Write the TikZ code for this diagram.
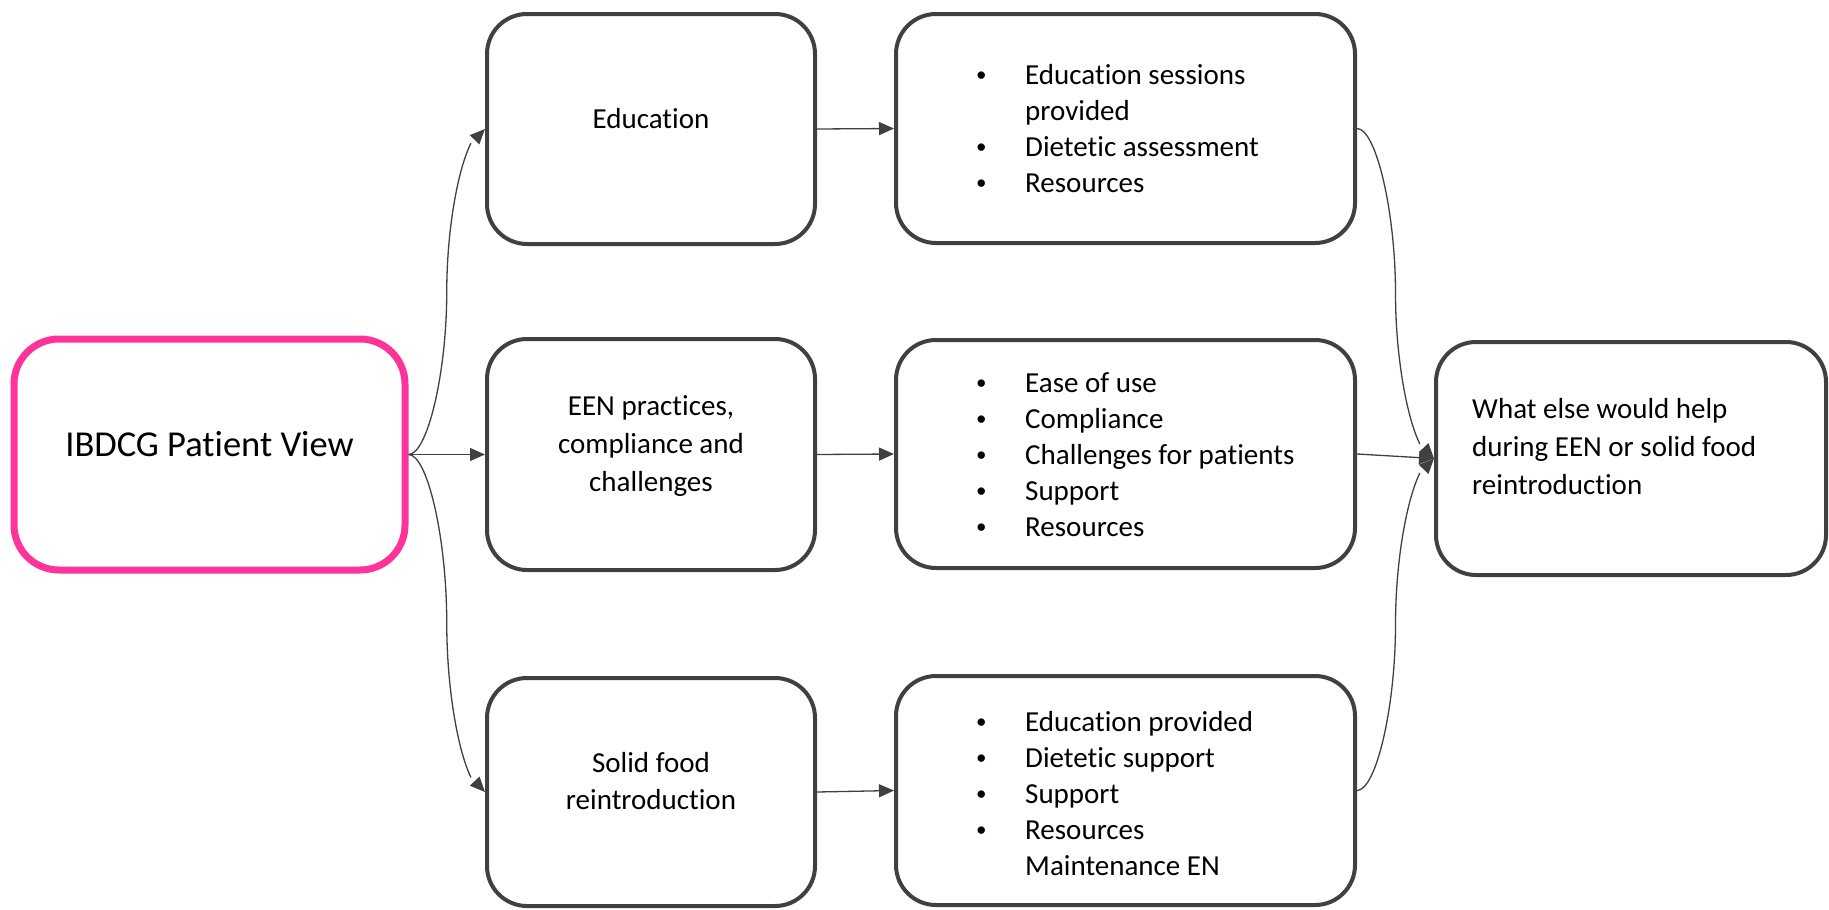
\documentclass[tikz,border=0pt]{standalone}
\usepackage{fontspec}
\setmainfont{Carlito}[Ligatures=NoCommon]
\usetikzlibrary{arrows.meta,bending,calc}
\definecolor{boxgray}{HTML}{404040}
\definecolor{hotpink}{HTML}{FF3399}
% centred lines, baseline of the node = baseline of the first line
\newcommand\ctrlines[1]{\begin{tabular}[t]{@{}c@{}}#1\end{tabular}}
\newcommand\leftlines[1]{\begin{tabular}[t]{@{}l@{}}#1\end{tabular}}
\newcommand\bul{\makebox[51pt][l]{\hspace*{2pt}\raisebox{2.5pt}{\fontsize{21pt}{21pt}\selectfont\textbullet}}}
\newcommand\nobul{\makebox[51pt][l]{}}
\begin{document}
\begin{tikzpicture}[x=1pt,y=-1pt,
  panel/.style={draw=boxgray, line width=4pt, rounded corners=40pt,
                fill=white, inner sep=0pt},
  txt/.style={inner sep=0pt, text=black, font=\fontsize{29pt}{37pt}\selectfont},
  listtxt/.style={inner sep=0pt, text=black, anchor=base west,
                  font=\fontsize{29pt}{36pt}\selectfont},
  link/.style={draw=boxgray, line width=1.3pt,
               -{Triangle[length=15pt,width=13pt]}}]
\useasboundingbox (0,0) rectangle (1829,910);

% boxes
\node[panel, draw=hotpink, line width=7pt, rounded corners=45pt,
      minimum width=391pt, minimum height=231pt] (ibd) at (209.5,454.5) {};
\node[panel, minimum width=328pt, minimum height=230pt] (edu) at (651,129) {};
\node[panel, minimum width=328pt, minimum height=231pt] (een) at (651,454.5) {};
\node[panel, minimum width=328pt, minimum height=228pt] (sol) at (651,792) {};
\node[panel, minimum width=459pt, minimum height=229pt] (c3a) at (1125.5,128.5) {};
\node[panel, minimum width=459pt, minimum height=228pt] (c3b) at (1125.5,454) {};
\node[panel, minimum width=459pt, minimum height=229pt] (c3c) at (1125.5,790.5) {};
\node[panel, minimum width=390pt, minimum height=233pt] (rb) at (1631,458.5) {};

% texts
\node[txt, anchor=base, font=\fontsize{36.5pt}{44pt}\selectfont] (ibdT) at (209.5,456) {IBDCG Patient View};
\node[txt, anchor=base] (eduT) at (651,128) {Education};
\node[txt, anchor=base, font=\fontsize{29pt}{38pt}\selectfont] (eenT) at (651,415)
  {\ctrlines{EEN practices,\\ compliance and\\ challenges}};
\node[txt, anchor=base] (solT) at (651,772) {\ctrlines{Solid food\\ reintroduction}};
\node[txt, anchor=base west, font=\fontsize{29pt}{38pt}\selectfont] (rbT) at (1472,418)
  {\leftlines{What else would help\\ during EEN or solid food\\ reintroduction}};

\node[listtxt] (c3aT) at (974,84) {\leftlines{%
  \bul Education sessions\\
  \nobul provided\\
  \bul Dietetic assessment\\
  \bul Resources}};
\node[listtxt] (c3bT) at (974,392) {\leftlines{%
  \bul Ease of use\\
  \bul Compliance\\
  \bul Challenges for patients\\
  \bul Support\\
  \bul Resources}};
\node[listtxt] (c3cT) at (974,731) {\leftlines{%
  \bul Education provided\\
  \bul Dietetic support\\
  \bul Support\\
  \bul Resources\\
  \nobul Maintenance EN}};

% connectors from the patient view
\draw[link] (ibd.east) .. controls +(19,0) and +(0,81) ..
  ($(ibd.east)!0.5!(edu.west)$) .. controls +(0,-81) and +(-19,0) .. (edu.west);
\draw[link] (ibd.east) -- (een.west);
\draw[link] (ibd.east) .. controls +(19,0) and +(0,-85) ..
  ($(ibd.east)!0.5!(sol.west)$) .. controls +(0,85) and +(-19,0) .. (sol.west);

% topic to detail
\draw[link] (edu.east) -- (c3a.west);
\draw[link] (een.east) -- (c3b.west);
\draw[link] (sol.east) -- (c3c.west);

% details into the final question
\draw[link] (c3a.east) .. controls +(19,0) and +(0,-82) ..
  ($(c3a.east)!0.5!(rb.west)$) .. controls +(0,82) and +(-19,0) .. (rb.west);
\draw[link] (c3b.east) -- (rb.west);
\draw[link] (c3c.east) .. controls +(19,0) and +(0,83) ..
  ($(c3c.east)!0.5!(rb.west)$) .. controls +(0,-83) and +(-19,0) .. (rb.west);
\end{tikzpicture}
\end{document}
